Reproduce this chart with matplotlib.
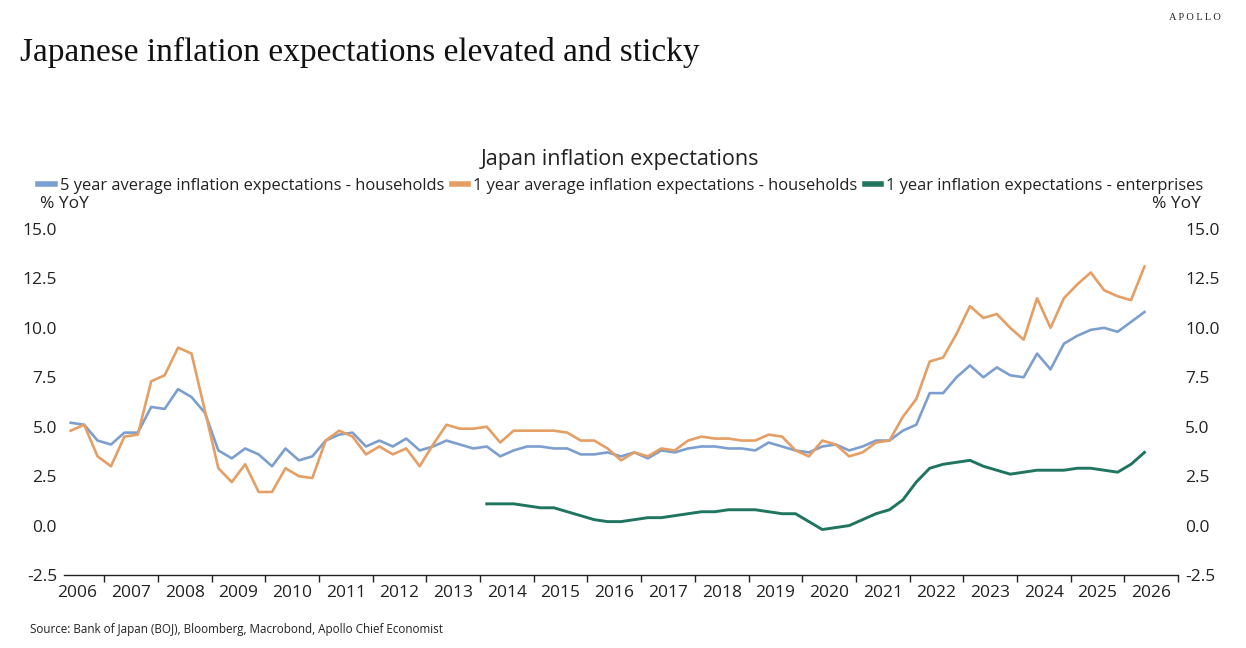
import matplotlib
matplotlib.use("Agg")
import matplotlib.pyplot as plt
import numpy as np

# quarterly survey points, first one mid-May 2006
start_year = 2006.375
step = 0.25

hh_5y = [5.2, 5.1, 4.3, 4.1, 4.7, 4.7, 6.0, 5.9, 6.9, 6.5, 5.7, 3.8, 3.4, 3.9, 3.6, 3.0, 3.9, 3.3, 3.5, 4.3, 4.6,
         4.7, 4.0, 4.3, 4.0, 4.4, 3.8, 4.0, 4.3, 4.1, 3.9, 4.0, 3.5, 3.8, 4.0, 4.0, 3.9, 3.9, 3.6, 3.6, 3.7, 3.5,
         3.7, 3.4, 3.8, 3.7, 3.9, 4.0, 4.0, 3.9, 3.9, 3.8, 4.2, 4.0, 3.8, 3.7, 4.0, 4.1, 3.8, 4.0, 4.3, 4.3,
         4.8, 5.1, 6.7, 6.7, 7.5, 8.1, 7.5, 8.0, 7.6, 7.5, 8.7, 7.9, 9.2, 9.6, 9.9, 10.0, 9.8, 10.3, 10.8]

hh_1y = [4.8, 5.1, 3.5, 3.0, 4.5, 4.6, 7.3, 7.6, 9.0, 8.7, 5.8, 2.9, 2.2, 3.1, 1.7, 1.7, 2.9, 2.5, 2.4, 4.3, 4.8,
         4.5, 3.6, 4.0, 3.6, 3.9, 3.0, 4.1, 5.1, 4.9, 4.9, 5.0, 4.2, 4.8, 4.8, 4.8, 4.8, 4.7, 4.3, 4.3, 3.9, 3.3,
         3.7, 3.5, 3.9, 3.8, 4.3, 4.5, 4.4, 4.4, 4.3, 4.3, 4.6, 4.5, 3.8, 3.5, 4.3, 4.1, 3.5, 3.7, 4.2, 4.3,
         5.5, 6.4, 8.3, 8.5, 9.7, 11.1, 10.5, 10.7, 10.0, 9.4, 11.5, 10.0, 11.5, 12.2, 12.8, 11.9, 11.6, 11.4, 13.1]

# enterprises series (Tankan) only starts in 2014
ent_first = 31
ent_1y = [1.1, 1.1, 1.1, 1.0, 0.9, 0.9, 0.7, 0.5, 0.3, 0.2, 0.2,
          0.3, 0.4, 0.4, 0.5, 0.6, 0.7, 0.7, 0.8, 0.8, 0.8, 0.7, 0.6, 0.6, 0.2, -0.2, -0.1, 0.0, 0.3, 0.6, 0.8,
          1.3, 2.2, 2.9, 3.1, 3.2, 3.3, 3.0, 2.8, 2.6, 2.7, 2.8, 2.8, 2.8, 2.9, 2.9, 2.8, 2.7, 3.1, 3.7]

years = list(range(2006, 2027))
yticks = [-2.5, 0.0, 2.5, 5.0, 7.5, 10.0, 12.5, 15.0]

labels = ["5 year average inflation expectations - households",
          "1 year average inflation expectations - households",
          "1 year inflation expectations - enterprises"]
colors = ["#7C9FCF", "#E59E64", "#1F7560"]

x_hh = start_year + step * np.arange(len(hh_5y))
x_ent = start_year + step * (ent_first + np.arange(len(ent_1y)))

plt.rcParams['font.family'] = ['Open Sans', 'DejaVu Sans']

fig = plt.figure(figsize=(12.46, 6.48), dpi=100)
ax = fig.add_axes([64/1246, 1-575/648, (1178-64)/1246, (575-229)/648])

lw = 1.9
l1, = ax.plot(x_hh, hh_5y, color=colors[0], lw=lw, label=labels[0])
l2, = ax.plot(x_hh, hh_1y, color=colors[1], lw=lw, label=labels[1])
l3, = ax.plot(x_ent, ent_1y, color=colors[2], lw=lw + 0.2, label=labels[2])

ax.set_xlim(2006.25, 2027.0)
ax.set_ylim(-2.5, 15)

for s in ["top", "left", "right"]:
    ax.spines[s].set_visible(False)
ax.spines["bottom"].set_linewidth(1.0)
ax.spines["bottom"].set_color("#222222")

# year boundary ticks, labels in the middle of each year
ax.set_xticks([y + 1 for y in years])
ax.set_xticklabels([])
ax.set_xticks([y + 0.5 for y in years], minor=True)
ax.set_xticklabels([str(y) for y in years], minor=True, fontsize=12.5)
ax.tick_params(axis="x", which="major", direction="out", length=5, width=1, color="#222222")
ax.tick_params(axis="x", which="minor", length=0, pad=7, labelcolor="#222222")

ax.set_yticks(yticks)
ax.set_yticklabels([f"{v:.1f}" for v in yticks], fontsize=12.5)
ax.tick_params(axis="y", length=0, pad=5, labelcolor="#222222")

ax2 = ax.twinx()
ax2.set_ylim(ax.get_ylim())
ax2.set_yticks(yticks)
ax2.set_yticklabels([f"{v:.1f}" for v in yticks], fontsize=12.5)
ax2.tick_params(axis="y", length=0, pad=5, labelcolor="#222222")
for s in ax2.spines.values():
    s.set_visible(False)

fig.text(20/1246, 1-52/648, "Japanese inflation expectations elevated and sticky",
         family=["Liberation Serif", "DejaVu Serif"], fontsize=24, va="center", ha="left", color="#111111")
fig.text(1221/1246, 1-18/648, "A P O L L O", family=["Liberation Serif", "DejaVu Serif"],
         fontsize=7.5, va="center", ha="right", color="#222222")

fig.text(620/1246, 1-159/648, "Japan inflation expectations", fontsize=15.5,
         ha="center", va="center", color="#222222")
fig.legend(handles=[l1, l2, l3], loc="center", bbox_to_anchor=(621/1246, 1-186/648), ncol=3,
           frameon=False, fontsize=11.9, handlelength=1.0, handletextpad=0.3, columnspacing=0.45,
           borderaxespad=0, borderpad=0, labelcolor="#222222")
for h in fig.legends[0].legend_handles:
    h.set_linewidth(4)

fig.text(40/1246, 1-204/648, "% YoY", fontsize=12.5, ha="left", va="center", color="#222222")
fig.text(1201/1246, 1-204/648, "% YoY", fontsize=12.5, ha="right", va="center", color="#222222")

fig.text(30/1246, 1-630/648, "Source: Bank of Japan (BOJ), Bloomberg, Macrobond, Apollo Chief Economist",
         fontsize=8.4, ha="left", va="center", color="#222222")

fig.savefig("out.png", dpi=100, facecolor="white")
